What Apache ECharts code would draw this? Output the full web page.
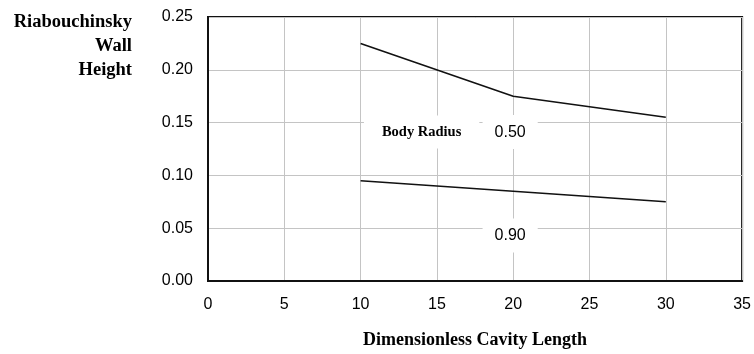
<!DOCTYPE html>
<html><head><meta charset="utf-8">
<script src="https://cdn.jsdelivr.net/npm/echarts@6/dist/echarts.min.js"></script>
<style>html,body{margin:0;padding:0;background:#fff}#c{width:754px;height:354px}</style>
</head><body><div id="c"></div>
<script>
const xTicks = [0, 5, 10, 15, 20, 25, 30, 35];
const yTicks = [0, 0.05, 0.10, 0.15, 0.20, 0.25];
const radius050X = [10, 20, 30];
const radius050Y = [0.225, 0.175, 0.155];
const radius090X = [10, 20, 30];
const radius090Y = [0.095, 0.085, 0.075];
const annotations = [
  {x: 14.0, y: 0.141, text: 'Body Radius', kind: 'title'},
  {x: 19.8, y: 0.141, text: '0.50', kind: 'value'},
  {x: 19.8, y: 0.043, text: '0.90', kind: 'value'}
];

const chart = echarts.init(document.getElementById('c'), null, {renderer: 'canvas'});
const serif = '"Liberation Serif", "Times New Roman", serif';
const sans = '"Liberation Sans", Arial, sans-serif';
chart.setOption({
  animation: false,
  backgroundColor: '#fff',
  grid: {left: 208, right: 11, top: 17, bottom: 71, show: true, borderColor: '#111', borderWidth: 2, backgroundColor: '#fff'},
  graphic: [{
    type: 'text', right: 622, top: 10,
    style: {text: 'Riabouchinsky\nWall\nHeight', font: 'bold 18.5px ' + serif, textAlign: 'right', lineHeight: 24, fill: '#000'}
  }],
  xAxis: {
    type: 'value', min: xTicks[0], max: xTicks[xTicks.length - 1], interval: 5,
    name: 'Dimensionless Cavity Length', nameLocation: 'middle', nameGap: 50,
    nameTextStyle: {fontFamily: serif, fontWeight: 'bold', fontSize: 18, color: '#000'},
    axisLine: {lineStyle: {color: '#111', width: 2}}, axisTick: {show: false},
    axisLabel: {fontFamily: sans, fontSize: 16, color: '#000', margin: 16},
    splitLine: {show: true, lineStyle: {color: '#c4c4c4', width: 1}}
  },
  yAxis: {
    type: 'value', min: yTicks[0], max: yTicks[yTicks.length - 1], interval: 0.05,
    axisLine: {show: true, lineStyle: {color: '#111', width: 2}}, axisTick: {show: false},
    axisLabel: {fontFamily: sans, fontSize: 16, color: '#000', margin: 15, formatter: v => v.toFixed(2)},
    splitLine: {show: true, lineStyle: {color: '#c4c4c4', width: 1}}
  },
  series: [
    {type: 'line', data: radius050X.map((x, i) => [x, radius050Y[i]]), showSymbol: false, symbol: 'none',
     lineStyle: {color: '#111', width: 1.6}},
    {type: 'line', data: radius090X.map((x, i) => [x, radius090Y[i]]), showSymbol: false, symbol: 'none',
     lineStyle: {color: '#111', width: 1.6}},
    {type: 'scatter', symbolSize: 0, z: 5, itemStyle: {opacity: 1}, emphasis: {disabled: true},
     data: annotations.map(a => ({value: [a.x, a.y], label: {
       show: true, position: 'inside', formatter: a.text, backgroundColor: '#fff',
       fontFamily: a.kind === 'title' ? serif : sans, fontWeight: a.kind === 'title' ? 'bold' : 'normal',
       fontSize: a.kind === 'title' ? 14.5 : 16, color: '#000', opacity: 1,
       padding: a.kind === 'title' ? [9, 18, 9, 18] : [9, 12, 9, 12]
     }}))}
  ]
});
</script></body></html>
